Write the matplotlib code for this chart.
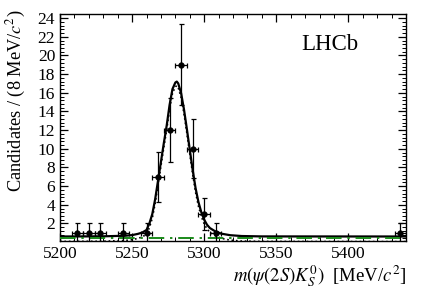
import numpy as np
import matplotlib
matplotlib.use('Agg')
import matplotlib.pyplot as plt
from matplotlib.ticker import MultipleLocator

plt.rcParams['font.family'] = ['Liberation Serif', 'DejaVu Serif']
plt.rcParams['mathtext.fontset'] = 'stix'

# binned data (8 MeV bins), empty bins not drawn
mass = [5212, 5220, 5228, 5244, 5260, 5268, 5276, 5284, 5292, 5300, 5308, 5436]
counts = [1, 1, 1, 1, 1, 7, 12, 19, 10, 3, 1, 1]
errs = [1, 1, 1, 1, 1, 2.65, 3.46, 4.36, 3.16, 1.73, 1, 1]

# total fit curve
fit_x = [5200, 5230, 5245, 5250, 5254, 5257, 5260, 5262, 5264, 5266, 5268, 5270,
         5272, 5274, 5276, 5278, 5280, 5281, 5282, 5284, 5286, 5288, 5290, 5292,
         5294, 5296, 5298, 5300, 5302, 5304, 5308, 5312, 5318, 5326, 5340, 5440]
fit_y = [0.6, 0.62, 0.68, 0.75, 0.88, 1.02, 1.3, 2.0, 3.0, 4.6, 6.6, 8.6,
         10.6, 12.5, 14.7, 16.4, 17.1, 17.2, 17.0, 15.95, 14.2, 12.1, 9.9, 7.75,
         5.8, 4.3, 3.2, 2.4, 1.85, 1.5, 1.12, 0.9, 0.74, 0.65, 0.61, 0.6]
# signal component (dotted)
sig_y = [0.07, 0.09, 0.17, 0.25, 0.4, 0.55, 0.85, 1.55, 2.55, 4.15, 6.15, 8.15,
         10.15, 12.05, 14.25, 15.95, 16.65, 16.75, 16.55, 15.5, 13.75, 11.65, 9.45, 7.3,
         5.35, 3.85, 2.75, 1.95, 1.4, 1.05, 0.65, 0.4, 0.21, 0.11, 0.07, 0.05]
# background component
bkg_x = [5200, 5440]
bkg_y = [0.42, 0.42]

fig = plt.figure(figsize=(4.27, 2.90), dpi=100)
ax = fig.add_axes([0.1405, 0.170, 0.8105, 0.782])

ax.plot(fit_x, sig_y, color='black', lw=1.2, ls=':', zorder=2)
ax.plot(fit_x, fit_y, color='black', lw=1.6, zorder=2)
ax.plot(bkg_x, bkg_y, color='#1a8a1a', lw=1.4, dashes=(8, 3, 1.2, 3), zorder=3)
ax.errorbar(mass, counts, yerr=errs, xerr=4, fmt='o', color='black', ms=3.5,
            elinewidth=0.9, capsize=1.8, capthick=0.9, zorder=4)

ax.set_xlim(5200, 5440)
ax.set_ylim(0.15, 24.45)
ax.xaxis.set_major_locator(MultipleLocator(50))
ax.xaxis.set_minor_locator(MultipleLocator(10))
ax.yaxis.set_minor_locator(MultipleLocator(0.4))
ax.set_yticks([2, 4, 6, 8, 10, 12, 14, 16, 18, 20, 22, 24])
ax.tick_params(which='both', direction='in', top=True, right=True, labelsize=12.5)
ax.tick_params(which='major', length=6, width=0.9)
ax.tick_params(which='minor', length=3, width=0.7)
for s in ax.spines.values():
    s.set_linewidth(1.0)

ax.set_xlabel(r'$m(\psi(2S)K^{0}_{S})$  [MeV/$c^{2}$]', fontsize=13.5)
ax.xaxis.set_label_coords(1.0, -0.1)
ax.xaxis.label.set_horizontalalignment('right')
ax.set_ylabel(r'Candidates / (8 MeV/$c^{2}$)', fontsize=13.2)
ax.yaxis.set_label_coords(-0.125, 1.02)
ax.yaxis.label.set_horizontalalignment('right')
ax.yaxis.label.set_verticalalignment('center')
ax.text(0.78, 0.865, 'LHCb', transform=ax.transAxes, fontsize=16.5, ha='center', va='center')

fig.savefig('out.png', dpi=100)
